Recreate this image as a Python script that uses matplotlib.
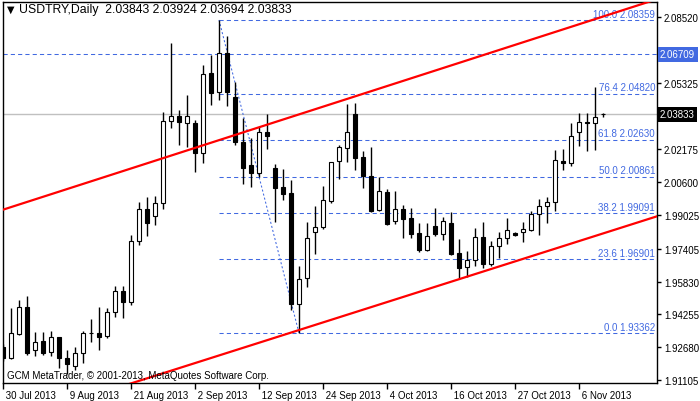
import numpy as np
import matplotlib
matplotlib.use("Agg")
from matplotlib import pyplot as plt

# daily USDTRY candles, 30 Jul 2013 .. 8 Nov 2013
opens = [1.92696, 1.92169, 1.93319, 1.94612, 1.92552, 1.92983, 1.92456, 1.93175, 1.92169, 1.91786,
         1.92408, 1.93370, 1.93366, 1.93223, 1.94372, 1.95378, 1.94851, 1.97773, 1.99306, 1.98971,
         1.99593, 2.03521, 2.03761, 2.03425, 2.03425, 2.01988, 2.05820, 2.04910, 2.06778, 2.04671,
         2.02515, 2.01414, 2.01030, 2.02994, 2.01270, 2.00360, 2.00072, 1.94756, 1.96001, 1.98204,
         1.98444, 1.99689, 2.01605, 2.02228, 2.03857, 2.01797, 2.00887, 1.99258, 2.00120, 1.98731,
         1.99306, 1.98875, 1.98156, 1.97342, 1.98492, 1.98109, 1.98635, 1.97198, 1.96528, 1.96863,
         1.97965, 1.96672, 1.97534, 1.97917, 1.98156, 1.98204, 1.98300, 1.99067, 1.99450, 1.99641,
         2.01605, 2.01509, 2.02994, 2.03473, 2.03425, 2.03843]
highs = [1.92840, 1.94564, 1.94947, 1.95139, 1.93414, 1.93414, 1.93462, 1.93190, 1.92552, 1.92696,
         1.93462, 1.94037, 1.94612, 1.94564, 1.95618, 1.95618, 1.98061, 1.99641, 1.99881, 1.99929,
         2.03952, 2.07257, 2.04048, 2.04767, 2.03569, 2.06204, 2.06683, 2.08359, 2.07593, 2.05389,
         2.03665, 2.02707, 2.03234, 2.03857, 2.01462, 2.01222, 2.00695, 1.96576, 1.98683, 1.99450,
         2.00408, 2.01557, 2.02372, 2.04336, 2.04383, 2.02084, 2.02276, 2.00839, 2.00264, 2.00168,
         1.99498, 1.99354, 1.98635, 1.98635, 1.99354, 1.98923, 1.99162, 1.97869, 1.97294, 1.98396,
         1.98683, 1.97773, 1.98204, 1.98875, 1.98204, 1.98683, 1.99210, 1.99785, 1.99881, 2.02132,
         2.02180, 2.03425, 2.03904, 2.03904, 2.05150, 2.03924]
lows = [1.92025, 1.92121, 1.93271, 1.92313, 1.92265, 1.92313, 1.92265, 1.91690, 1.91403, 1.91594,
        1.91929, 1.92935, 1.92552, 1.93127, 1.94133, 1.94085, 1.94708, 1.97582, 1.98013, 1.98540,
        1.99306, 2.03186, 2.02372, 2.02276, 2.01078, 2.01509, 2.04288, 2.04527, 2.04240, 2.02372,
        2.00504, 2.00360, 2.00839, 2.02180, 1.98683, 1.99737, 1.94468, 1.93362, 1.95570, 1.97151,
        1.98348, 1.99593, 2.00743, 2.01557, 2.01174, 2.00312, 1.99180, 1.99210, 1.98540, 1.98588,
        1.97917, 1.97917, 1.97246, 1.97294, 1.98013, 1.97821, 1.97120, 1.95953, 1.96049, 1.96576,
        1.96480, 1.96576, 1.96959, 1.97630, 1.98013, 1.97725, 1.98252, 1.98061, 1.98635, 1.99210,
        2.01174, 2.01366, 2.02324, 2.02084, 2.02132, 2.03694]
closes = [1.92169, 1.93366, 1.94612, 1.92408, 1.92935, 1.92408, 1.93175, 1.92169, 1.91882, 1.92408,
          1.93366, 1.93366, 1.93175, 1.94372, 1.95378, 1.94851, 1.97773, 1.99306, 1.98635, 1.99593,
          2.03521, 2.03761, 2.03473, 2.03761, 2.01988, 2.05773, 2.04862, 2.06778, 2.04910, 2.02515,
          2.01270, 2.01030, 2.02994, 2.02803, 2.00312, 2.00025, 1.94756, 1.95953, 1.97917, 1.98444,
          1.99737, 2.01557, 2.02276, 2.02994, 2.01749, 2.00887, 1.99210, 2.00168, 1.98588, 1.99306,
          1.98827, 1.98109, 1.97342, 1.98013, 1.98109, 1.98731, 1.97151, 1.96480, 1.96863, 1.97965,
          1.96672, 1.97534, 1.97917, 1.98300, 1.98061, 1.98348, 1.99067, 1.99450, 1.99641, 2.01653,
          2.01509, 2.02803, 2.03473, 2.03425, 2.03713, 2.03833]

date_pos = [0, 8, 16, 24, 32, 40, 48, 56, 64, 72]
date_labels = ["30 Jul 2013", "9 Aug 2013", "21 Aug 2013", "2 Sep 2013", "12 Sep 2013",
               "24 Sep 2013", "4 Oct 2013", "16 Oct 2013", "27 Oct 2013", "6 Nov 2013"]
# 2.03750 sits under the bid box, so it has a tick but no label
price_ticks = [2.08520, 2.06945, 2.05325, 2.03750, 2.02175, 2.00600, 1.99025,
               1.97405, 1.95830, 1.94255, 1.92680, 1.91105]
price_labels = ["2.08520", "2.06945", "2.05325", "", "2.02175", "2.00600", "1.99025",
                "1.97405", "1.95830", "1.94255", "1.92680", "1.91105"]

# fibonacci retracement (high bar 27 -> low bar 37)
fib_pct = [0.0, 23.6, 38.2, 50.0, 61.8, 76.4, 100.0]
fib_val = [1.93362, 1.96901, 1.99091, 2.00861, 2.02630, 2.04820, 2.08359]
fib_x = [27, 37]
fib_y = [2.08359, 1.93362]

# channel lines
chan_x = [0, 75]
upper_y = [1.99273, 2.08524]
lower_y = [1.89003, 1.98134]

hline_val = 2.06709
bid = 2.03833

blue = '#4169E1'
plt.rcParams['font.family'] = ['Liberation Sans', 'DejaVu Sans']

fig = plt.figure(figsize=(7, 4.02), dpi=100)
ax = fig.add_axes([2.5 / 700, 18 / 402, 654.5 / 700, 381.5 / 402])
xmin, xmax = -0.0625, 81.75
ax.set_xlim(xmin, xmax)
ax.set_ylim(1.90971, 2.09245)

x = np.arange(len(opens))
o = np.array(opens); c = np.array(closes)

# grey bid line, horizontal line, fibo
ax.axhline(bid, color='#C0C0C0', lw=1, zorder=1)
ax.axhline(hline_val, color=blue, lw=0.75, ls=(0, (4, 3)), zorder=1)
ax.hlines(fib_val, fib_x[0], xmax, color=blue, lw=0.75, linestyles=[(0, (4, 3))], zorder=1)
ax.plot(fib_x, fib_y, color=blue, lw=0.75, ls=(0, (2, 2)), zorder=1)
for p, v in zip(fib_pct, fib_val):
    ax.annotate("%.1f %.5f" % (p, v), xy=(0.997, v), xycoords=('axes fraction', 'data'),
                xytext=(0, 1), textcoords='offset points', ha='right', va='bottom',
                color=blue, fontsize=7, zorder=1)

# candles
ax.vlines(x, lows, highs, color='black', lw=1, zorder=2)
up = c >= o
ax.bar(x[up], (c - o)[up], bottom=o[up], width=0.6, color='white', edgecolor='black',
       linewidth=0.8, zorder=3)
ax.bar(x[~up], (o - c)[~up], bottom=c[~up], width=0.6, color='black', edgecolor='black',
       linewidth=0.8, zorder=3)

# red channel
ext = [xmin, xmax]
sl_u = (upper_y[1] - upper_y[0]) / (chan_x[1] - chan_x[0])
sl_l = (lower_y[1] - lower_y[0]) / (chan_x[1] - chan_x[0])
ax.plot(ext, [upper_y[0] + sl_u * e for e in ext], color='red', lw=1.6, zorder=4)
ax.plot(ext, [lower_y[0] + sl_l * e for e in ext], color='red', lw=1.6, zorder=4)

# axes
for s in ax.spines.values():
    s.set_color('black'); s.set_linewidth(1)
ax.yaxis.tick_right()
ax.set_yticks(price_ticks)
ax.set_yticklabels(price_labels)
ax.tick_params(axis='y', length=3, width=1, pad=2, labelsize=7, colors='black')
ax.set_xticks(date_pos)
ax.set_xticklabels([" " + d for d in date_labels], ha='left')
ax.tick_params(axis='x', length=4, width=1, pad=1, labelsize=7, colors='black')

# price boxes
ax.text(1.0045, hline_val, "%.5f" % hline_val, transform=ax.get_yaxis_transform(),
        ha='left', va='center', fontsize=7, color='white', clip_on=False, zorder=6,
        bbox=dict(boxstyle='square,pad=0.25', fc=blue, ec='none'))
ax.text(1.0045, bid, "%.5f" % bid, transform=ax.get_yaxis_transform(),
        ha='left', va='center', fontsize=7, color='white', clip_on=False, zorder=6,
        bbox=dict(boxstyle='square,pad=0.25', fc='black', ec='none'))

ax.text(0.0075, 0.980, "\u25BC", transform=ax.transAxes, fontsize=7, va='center',
        ha='left', family='DejaVu Sans')
ax.text(0.0252, 0.980, "USDTRY,Daily  2.03843 2.03924 2.03694 2.03833",
        transform=ax.transAxes, fontsize=8.8, va='center', ha='left')
ax.text(0.0069, 0.021, "GCM MetaTrader, \u00a9 2001-2013, MetaQuotes Software Corp.",
        transform=ax.transAxes, fontsize=7, va='center', ha='left', zorder=5)

fig.savefig('out.png', dpi=100)
